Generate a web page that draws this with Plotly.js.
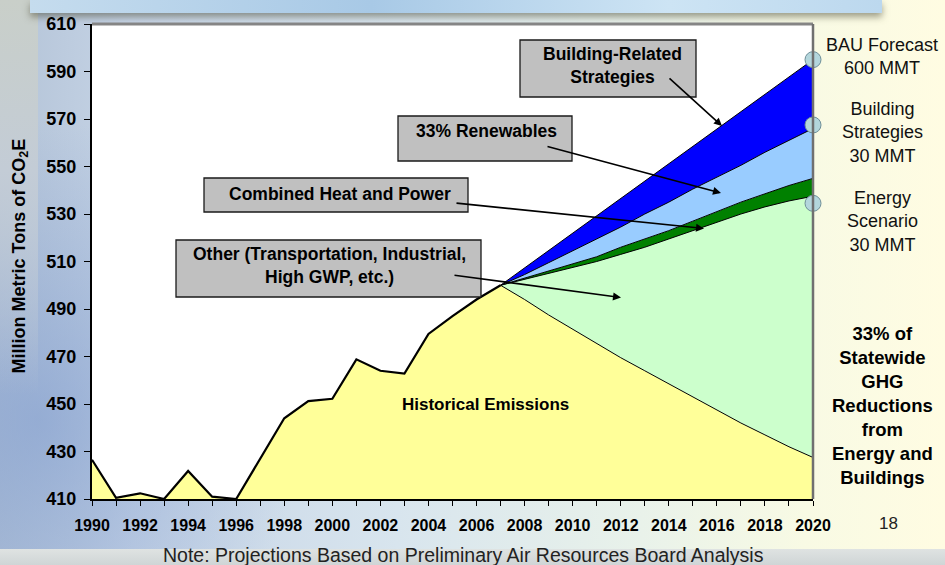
<!DOCTYPE html>
<html>
<head>
<meta charset="utf-8">
<script src="https://cdn.plot.ly/plotly-3.0.1.min.js"></script>
<style>
  html, body { margin:0; padding:0; width:945px; height:565px; overflow:hidden; }
  body {
    background:
      radial-gradient(ellipse 260px 300px at 40px 420px, rgba(120,150,205,0.55), rgba(120,150,205,0) 100%),
      linear-gradient(90deg, #b3c3d7 0%, #c6d4e6 14%, #d8e5ee 42%, #e9f2ea 68%, #f8fae4 85%, #fffce2 100%);
    position: relative;
  }
  #hdr { position:absolute; left:30px; top:0; width:852px; height:13px;
    background: linear-gradient(90deg, #c5dcee 0%, #a8c9e6 40%, #cde4f4 75%, #bcd8ee 100%);
    box-shadow: 0 4px 7px rgba(80,80,60,0.55); }
  #corner { position:absolute; left:0; top:0; width:38px; height:565px;
    background: linear-gradient(180deg, #c9cfc9 0%, #c3ccd6 30%, rgba(195,205,220,0) 70%); }
  #foot { position:absolute; left:0; top:549px; width:945px; height:16px;
    background: linear-gradient(180deg, #dfe3e2, #cfd5d6); }
  #chart { position:absolute; left:0; top:0; width:945px; height:565px; }
</style>
</head>
<body>
<div id="corner"></div>
<div id="hdr"></div>
<div id="foot"></div>
<div id="chart"></div>
<script>
// ---- data ----
const histYears = [1990,1991,1992,1993,1994,1995,1996,1997,1998,1999,2000,2001,2002,2003,2004,2005,2006,2007];
const histVals  = [426.5,410.5,412.4,410,421.8,411,410,427,444,451.2,452.2,468.8,464,462.8,479.5,487,494,500];

const projYears   = [2007,2008,2009,2010,2011,2012,2013,2014,2015,2016,2017,2018,2019,2020];
const yellowProj  = [500,494,487.5,481.5,475.5,469.5,464,458.5,453,447.5,442,437,432,427.5];
const greenBottom = [500,502.5,505,507.5,510,513,516,519.5,523,526.5,530,533,535.5,537.5];
const greenTop    = [500,503,506,509,512,516,519.5,523,527,531,535,538.5,542,545];
const buildingTop = [500,504.5,509.5,514.5,519.5,524.5,530,535,540.5,545.5,550.5,556,561,566];
const bauForecast = [500,507.3,514.6,521.9,529.2,536.5,543.8,551.1,558.4,565.7,573,580.3,587.6,595];

const markerYears = [2020,2020,2020];
const markerVals  = [595,567.5,534.5];

const xTickVals = [1990,1992,1994,1996,1998,2000,2002,2004,2006,2008,2010,2012,2014,2016,2018,2020];
const xTickText = xTickVals.map(String);
const yTickVals = [410,430,450,470,490,510,530,550,570,590,610];

// ---- layout helpers (pixel -> paper) ----
const W = 945, H = 565;
const L = 92, R = 132, T = 24, B = 66;
const PW = W - L - R, PH = H - T - B;
const PX = px => (px - L) / PW;
const PY = py => (T + PH - py) / PH;

const FONT = '"Liberation Sans", Arial, sans-serif';
const blk = '#000000';

const allYears = histYears.concat(projYears.slice(1));
const allYellow = histVals.concat(yellowProj.slice(1));

const traces = [
  {x: allYears, y: allYellow, type:'scatter', mode:'lines', fill:'tozeroy',
   fillcolor:'#FFFF99', line:{width:0, color:'rgba(0,0,0,0)'}, hoverinfo:'skip'},
  {x: histYears, y: histVals, type:'scatter', mode:'lines', line:{width:2.2, color:blk}, hoverinfo:'skip'},
  {x: projYears, y: yellowProj, type:'scatter', mode:'lines', line:{width:1, color:blk}, hoverinfo:'skip'},
  {x: projYears, y: greenBottom, type:'scatter', mode:'lines', fill:'tonexty',
   fillcolor:'#CCFFCC', line:{width:1, color:blk}, hoverinfo:'skip'},
  {x: projYears, y: greenTop, type:'scatter', mode:'lines', fill:'tonexty',
   fillcolor:'#008000', line:{width:1, color:blk}, hoverinfo:'skip'},
  {x: projYears, y: buildingTop, type:'scatter', mode:'lines', fill:'tonexty',
   fillcolor:'#99CCFF', line:{width:1, color:blk}, hoverinfo:'skip'},
  {x: projYears, y: bauForecast, type:'scatter', mode:'lines', fill:'tonexty',
   fillcolor:'#0000FF', line:{width:1, color:blk}, hoverinfo:'skip'},
  {x: markerYears, y: markerVals, type:'scatter', mode:'markers', cliponaxis:false,
   marker:{size:16, color:'#B3D6DC', line:{color:'#6E8E98', width:1}}, hoverinfo:'skip'}
];

function box(x0, y0, x1, y1) {
  return {type:'rect', xref:'paper', yref:'paper', x0:PX(x0), x1:PX(x1), y0:PY(y1), y1:PY(y0),
          fillcolor:'#C0C0C0', line:{color:'#1a1a1a', width:1.3}, layer:'above'};
}
function txt(px, py, text, size, weight, color) {
  return {xref:'paper', yref:'paper', x:PX(px), y:PY(py), text:text, showarrow:false,
          xanchor:'center', yanchor:'middle', align:'center',
          font:{family:FONT, size:size, color:color || '#000', weight:weight || 'normal'}};
}
function arrow(tx, ty, hx, hy) {
  return {xref:'paper', yref:'paper', x:PX(hx), y:PY(hy), ax:tx-hx, ay:ty-hy, text:'',
          showarrow:true, arrowhead:2, arrowsize:1, arrowwidth:1.6, arrowcolor:'#000',
          standoff:0, startstandoff:0};
}

const shapes = [
  {type:'line', xref:'paper', yref:'paper', x0:0, x1:1, y0:1, y1:1, line:{color:'#858585', width:3}, layer:'above'},
  {type:'line', xref:'paper', yref:'paper', x0:1, x1:1, y0:0, y1:1, line:{color:'#707070', width:2.5}, layer:'above'},
  box(520, 40, 696, 97),
  box(398, 116, 572, 161),
  box(204, 178, 468, 212),
  box(176, 240, 481, 297)
];

const annotations = [
  txt(612, 65.5, 'Building-Related<br>Strategies', 17.5, 'bold'),
  txt(486, 131, '33% Renewables', 17.5, 'bold'),
  txt(340, 194, 'Combined Heat and Power', 17.5, 'bold'),
  txt(329, 265, 'Other (Transportation, Industrial,<br>High GWP, etc.)', 17.5, 'bold'),
  arrow(668, 77, 722, 126),
  arrow(546, 146, 721, 193),
  arrow(455, 203, 704, 228.5),
  arrow(453, 275, 621, 297.5),
  txt(485, 404, 'Historical Emissions', 17, 'bold'),
  txt(882, 56, 'BAU Forecast<br>600 MMT', 18, 'normal', '#111'),
  txt(882, 132, 'Building<br>Strategies<br>30 MMT', 18, 'normal', '#111'),
  txt(882, 221.5, 'Energy<br>Scenario<br>30 MMT', 18, 'normal', '#111'),
  txt(882, 405, '33% of<br>Statewide<br>GHG<br>Reductions<br>from<br>Energy and<br>Buildings', 18.5, 'bold'),
  txt(888, 523, '18', 17, 'normal', '#222'),
  txt(463, 555, 'Note: Projections Based on Preliminary Air Resources Board Analysis', 19.5, 'normal', '#222'),
  Object.assign(txt(19.5, 256, 'Million Metric Tons of CO<sub>2</sub>E', 18, 'bold'), {textangle:-90})
];

const layout = {
  width: W, height: H,
  margin: {l:L, r:R, t:T, b:B, pad:0},
  paper_bgcolor: 'rgba(0,0,0,0)',
  plot_bgcolor: '#FFFFFF',
  showlegend: false,
  xaxis: {
    range: [1990, 2020], tickmode:'array', tickvals: xTickVals, ticktext: xTickText,
    showgrid:false, zeroline:false, showline:true, linecolor:'#000', linewidth:2,
    ticks:'outside', ticklen:5, tickwidth:1, tickcolor:'#000', ticklabelstandoff:6,
    minor: {dtick:1, ticks:'outside', ticklen:5, tickwidth:1, tickcolor:'#000', showgrid:false},
    tickfont: {family:FONT, size:16, color:'#000', weight:'bold'}
  },
  yaxis: {
    range: [410, 610], tickmode:'array', tickvals: yTickVals,
    showgrid:false, zeroline:false, showline:true, linecolor:'#000', linewidth:2,
    ticks:'outside', ticklen:6, tickwidth:1, tickcolor:'#000', ticklabelstandoff:4,
    tickfont: {family:FONT, size:18, color:'#000', weight:'bold'}
  },
  shapes: shapes,
  annotations: annotations
};

Plotly.newPlot('chart', traces, layout, {displayModeBar:false, staticPlot:true});
</script>
</body>
</html>
